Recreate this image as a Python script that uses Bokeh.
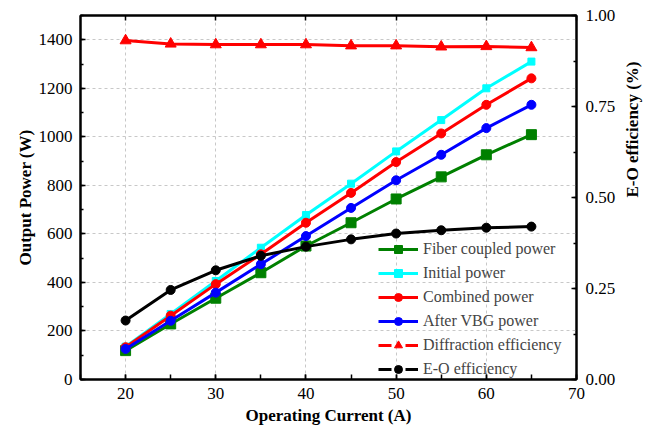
import math
from bokeh.plotting import figure
from bokeh.models import (Range1d, LinearAxis, SingleIntervalTicker, NumeralTickFormatter,
                          Legend, LegendItem, ColumnDataSource, CustomJSTickFormatter)
from bokeh.embed import file_html
from bokeh.resources import INLINE

current = [20, 25, 30, 35, 40, 45, 50, 55, 60, 65]
fiber = [119, 229, 335, 440, 550, 646, 744, 835, 926, 1009]
initial = [135, 270, 406, 543, 678, 807, 940, 1069, 1200, 1310]
combined = [133, 263, 393, 516, 646, 769, 896, 1014, 1132, 1241]
after_vbg = [126, 242, 358, 475, 591, 707, 821, 926, 1036, 1132]
diffraction = [0.931, 0.922, 0.920, 0.920, 0.920, 0.917, 0.917, 0.914, 0.915, 0.912]
eo_eff = [0.162, 0.246, 0.300, 0.340, 0.365, 0.385, 0.401, 0.410, 0.417, 0.420]

FONT = "Liberation Serif"

p = figure(width=659, height=433, output_backend="svg", toolbar_location=None,
           x_range=Range1d(15, 70), y_range=Range1d(0, 1500),
           min_border_left=80, min_border_right=83, min_border_top=15, min_border_bottom=54)
p.extra_y_ranges = {"eff": Range1d(0, 1.0)}
p.outline_line_color = "black"
p.outline_line_width = 2
p.background_fill_color = "white"
p.border_fill_color = "white"

def style_axis(ax, tick_in=5, minor_in=3):
    ax.axis_line_width = 2
    ax.axis_line_color = "black"
    ax.major_tick_in = tick_in
    ax.major_tick_out = 0
    ax.minor_tick_in = minor_in
    ax.minor_tick_out = 0
    ax.major_tick_line_width = 1.5
    ax.minor_tick_line_width = 1.5
    ax.major_label_text_font = FONT
    ax.major_label_text_font_size = "17px"
    ax.major_label_text_color = "black"
    ax.axis_label_text_font = FONT
    ax.axis_label_text_font_size = "17px"
    ax.axis_label_text_font_style = "bold"
    ax.axis_label_text_color = "black"

xa = p.xaxis[0]
xa.ticker = SingleIntervalTicker(interval=10, num_minor_ticks=2)
xa.axis_label = "Operating Current (A)"
style_axis(xa, 5, 5)
xa.major_label_standoff = 8
xa.axis_label_standoff = 4

ya = p.yaxis[0]
ya.ticker = SingleIntervalTicker(interval=200, num_minor_ticks=2)
ya.axis_label = "Output Power (W)"
style_axis(ya, 5, 3)
ya.major_label_standoff = 8
ya.axis_label_standoff = 1

ra = LinearAxis(y_range_name="eff", axis_label="E-O efficiency (%)",
                ticker=SingleIntervalTicker(interval=0.25, num_minor_ticks=2),
                formatter=NumeralTickFormatter(format="0.00"))
style_axis(ra, 5, 3)
ra.major_label_standoff = 9
ra.axis_label_standoff = 14
ra.axis_label_orientation = math.pi / 2
p.add_layout(ra, "right")

ta = LinearAxis(ticker=SingleIntervalTicker(interval=10, num_minor_ticks=0),
                formatter=CustomJSTickFormatter(code="return '';"))
style_axis(ta, 5, 0)
ta.major_label_standoff = 0
p.add_layout(ta, "above")

for g in (p.xgrid[0], p.ygrid[0]):
    g.grid_line_color = "#c8c8c8"
    g.grid_line_dash = "3 3"
    g.grid_line_width = 1

LW = 3
src = ColumnDataSource(dict(x=current, fiber=fiber, initial=initial, combined=combined,
                            vbg=after_vbg, diff=diffraction, eo=eo_eff))

items = []
l = p.line("x", "fiber", source=src, color="#008000", line_width=LW)
m = p.scatter("x", "fiber", source=src, marker="square", size=10, color="#008000")
items.append(LegendItem(label="Fiber coupled power", renderers=[l, m]))

l = p.line("x", "initial", source=src, color="#00FFFF", line_width=LW)
m = p.scatter("x", "initial", source=src, marker="square", size=7, color="#00FFFF")
items.append(LegendItem(label="Initial power", renderers=[l, m]))

l = p.line("x", "combined", source=src, color="#FF0000", line_width=LW)
m = p.scatter("x", "combined", source=src, marker="circle", size=9, color="#FF0000")
items.append(LegendItem(label="Combined power", renderers=[l, m]))

l = p.line("x", "vbg", source=src, color="#0000FF", line_width=LW)
m = p.scatter("x", "vbg", source=src, marker="circle", size=9, color="#0000FF")
items.append(LegendItem(label="After VBG power", renderers=[l, m]))

# legend-only dashed line helpers (NaN point, never visible in the plot area)
nan_src = ColumnDataSource(dict(x=[float("nan")], y=[float("nan")]))

p.line("x", "diff", source=src, color="#FF0000", line_width=LW, y_range_name="eff")
m = p.scatter("x", "diff", source=src, marker="triangle", size=11, color="#FF0000", y_range_name="eff")
ld = p.line("x", "y", source=nan_src, color="#FF0000", line_width=LW, line_dash="13 14", y_range_name="eff")
items.append(LegendItem(label="Diffraction efficiency", renderers=[ld, m]))

p.line("x", "eo", source=src, color="black", line_width=LW, y_range_name="eff")
m = p.scatter("x", "eo", source=src, marker="circle", size=9, color="black", y_range_name="eff")
ld = p.line("x", "y", source=nan_src, color="black", line_width=LW, line_dash="13 14", y_range_name="eff")
items.append(LegendItem(label="E-O efficiency", renderers=[ld, m]))

legend = Legend(items=items, location=(298, 0), padding=0, margin=0,
                glyph_width=40, glyph_height=20, label_height=20, spacing=4,
                label_standoff=5, label_text_font=FONT, label_text_font_size="16px",
                border_line_color=None, background_fill_alpha=0)
p.add_layout(legend, "center")

open("out.html", "w").write(file_html(p, INLINE))
